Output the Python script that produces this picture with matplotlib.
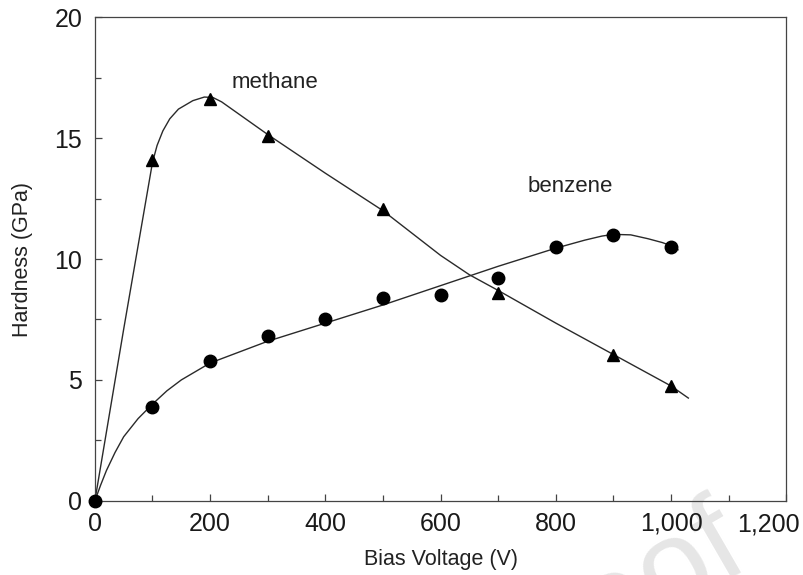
import matplotlib
matplotlib.use("Agg")
import matplotlib.pyplot as plt
from matplotlib.ticker import MultipleLocator, FuncFormatter

plt.rcParams["font.family"] = ["Liberation Sans", "DejaVu Sans"]

# measured points
methane_v = [100, 200, 300, 500, 700, 900, 1000]
methane_h = [14.1, 16.6, 15.1, 12.05, 8.6, 6.05, 4.75]
benzene_v = [0, 100, 200, 300, 400, 500, 600, 700, 800, 900, 1000]
benzene_h = [0, 3.9, 5.8, 6.8, 7.5, 8.4, 8.5, 9.2, 10.5, 11.0, 10.5]

# fitted curves
methane_fit_v = [0, 50, 100, 108, 118, 130, 145, 170, 190, 205, 220, 300, 400, 500,
                 600, 650, 700, 800, 900, 1000, 1030]
methane_fit_h = [0, 7.1, 14.0, 14.7, 15.3, 15.8, 16.2, 16.55, 16.7, 16.68, 16.5, 15.15, 13.55, 12.0,
                 10.15, 9.35, 8.7, 7.35, 6.05, 4.75, 4.25]
benzene_fit_v = [0, 10, 20, 35, 50, 75, 100, 125, 150, 200, 300, 400, 500, 600, 700,
                 800, 850, 880, 900, 930, 960, 985, 1000, 1012]
benzene_fit_h = [0, 0.65, 1.25, 2.0, 2.65, 3.4, 4.0, 4.55, 5.0, 5.7, 6.6, 7.35, 8.1, 8.9, 9.7,
                 10.45, 10.78, 10.95, 11.02, 11.0, 10.84, 10.68, 10.55, 10.38]

line_col = "#2a2a2a"
axis_col = "#444444"

fig = plt.figure(figsize=(8.04, 5.75), dpi=100)
ax = fig.add_axes([0.118, 0.129, 0.860, 0.841])
ax.patch.set_alpha(0)  # let the watermark show through under the plot

ax.plot(methane_fit_v, methane_fit_h, color=line_col, lw=1.0, zorder=2)
ax.plot(benzene_fit_v, benzene_fit_h, color=line_col, lw=1.0, zorder=2)
ax.plot(methane_v, methane_h, "^", color="black", ms=9, zorder=3)
ax.plot(benzene_v, benzene_h, "o", color="black", ms=9, zorder=3, clip_on=False)

ax.set_xlim(0, 1200)
ax.set_ylim(0, 20)
ax.xaxis.set_major_locator(MultipleLocator(200))
ax.xaxis.set_minor_locator(MultipleLocator(100))
ax.yaxis.set_major_locator(MultipleLocator(5))
ax.yaxis.set_minor_locator(MultipleLocator(2.5))
# last label is pulled left in the original so it stays on the page
ax.xaxis.set_major_formatter(FuncFormatter(lambda v, p: "" if v >= 1200 else f"{int(v):,}"))
ax.annotate("1,200", xy=(1200, 0), xycoords="data", xytext=(-18, -12),
            textcoords="offset pixels", ha="center", va="top",
            fontsize=18, color="#1a1a1a", annotation_clip=False)

ax.tick_params(which="both", direction="in", color=axis_col, width=0.9,
               labelsize=18, labelcolor="#1a1a1a")
ax.tick_params(which="major", length=5)
ax.tick_params(which="minor", length=4)
ax.tick_params(axis="x", pad=8)
ax.tick_params(axis="y", pad=9)
for s in ax.spines.values():
    s.set_color(axis_col)
    s.set_linewidth(0.9)

ax.set_xlabel("Bias Voltage (V)", fontsize=15.5, color="#222222")
ax.set_ylabel("Hardness (GPa)", fontsize=15.5, color="#222222")
ax.xaxis.set_label_coords(0.5, -0.1)
ax.yaxis.set_label_coords(-0.09, 0.5)

ax.text(238, 17.3, "methane", fontsize=16, color="#222222", va="center")
ax.text(751, 13.0, "benzene", fontsize=16, color="#222222", va="center")

# faint watermark in the lower right, mostly off the page
fig.text(0.935, 0.025, "Proof", fontsize=90, color="#e6e6e6", rotation=30,
         rotation_mode="anchor", ha="right", va="baseline", zorder=-1)

fig.savefig("out.png", dpi=100)
